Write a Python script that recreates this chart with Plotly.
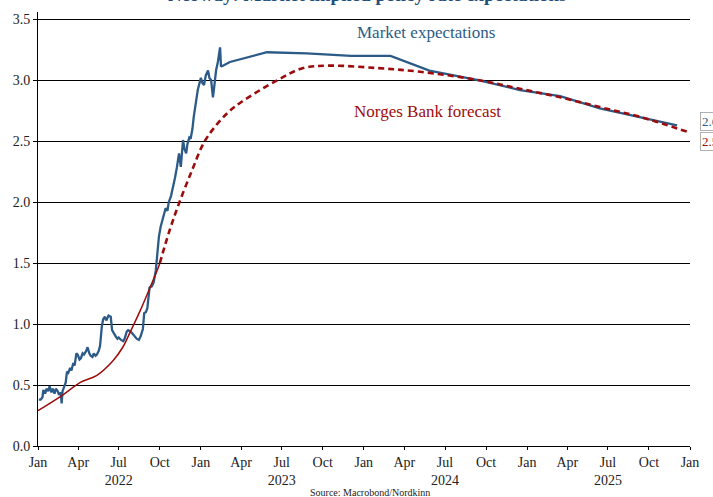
import plotly.graph_objects as go

# ---------------- data ----------------
market_hist_dates = [
    "2022-01-03", "2022-01-07", "2022-01-11", "2022-01-13", "2022-01-17", "2022-01-20",
    "2022-01-24", "2022-01-27", "2022-01-31", "2022-02-03", "2022-02-07", "2022-02-10",
    "2022-02-14", "2022-02-17", "2022-02-21", "2022-02-23", "2022-02-25", "2022-03-01",
    "2022-03-04", "2022-03-07", "2022-03-10", "2022-03-14", "2022-03-17", "2022-03-21",
    "2022-03-24", "2022-03-28", "2022-03-31", "2022-04-04", "2022-04-07", "2022-04-11",
    "2022-04-14", "2022-04-19", "2022-04-22", "2022-04-26", "2022-04-29", "2022-05-03",
    "2022-05-06", "2022-05-10", "2022-05-13", "2022-05-17", "2022-05-20", "2022-05-24",
    "2022-05-27", "2022-05-31", "2022-06-03", "2022-06-08", "2022-06-13", "2022-06-16",
    "2022-06-20", "2022-06-24", "2022-06-28", "2022-07-01", "2022-07-06", "2022-07-11",
    "2022-07-14", "2022-07-19", "2022-07-22", "2022-07-27", "2022-08-01", "2022-08-05",
    "2022-08-10", "2022-08-15", "2022-08-19", "2022-08-24", "2022-08-27", "2022-08-31",
    "2022-09-03", "2022-09-08", "2022-09-13", "2022-09-17", "2022-09-22", "2022-09-26",
    "2022-09-29", "2022-10-03", "2022-10-06", "2022-10-10", "2022-10-14", "2022-10-18",
    "2022-10-21", "2022-10-26", "2022-10-31", "2022-11-04", "2022-11-08", "2022-11-13",
    "2022-11-17", "2022-11-22", "2022-11-25", "2022-11-29", "2022-12-02", "2022-12-06",
    "2022-12-09", "2022-12-13", "2022-12-16", "2022-12-20", "2022-12-25", "2023-01-01",
    "2023-01-04", "2023-01-08", "2023-01-12", "2023-01-17", "2023-01-20", "2023-01-24",
    "2023-01-28", "2023-01-31", "2023-02-04", "2023-02-08", "2023-02-11", "2023-02-13",
    "2023-02-15",
]
market_hist_values = [
    0.38, 0.38, 0.40, 0.46, 0.43, 0.47,
    0.45, 0.49, 0.44, 0.47, 0.43, 0.47,
    0.45, 0.42, 0.44, 0.35, 0.45, 0.49,
    0.52, 0.61, 0.60, 0.64, 0.62, 0.68,
    0.66, 0.76, 0.75, 0.71, 0.72, 0.76,
    0.75, 0.78, 0.81, 0.76, 0.74, 0.73,
    0.76, 0.74, 0.75, 0.78, 0.82, 0.98,
    1.04, 1.06, 1.03, 1.07, 1.06, 0.95,
    0.92, 0.90, 0.88, 0.89, 0.87, 0.86,
    0.88, 0.94, 0.95, 0.94, 0.92, 0.90,
    0.88, 0.87, 0.90, 0.96, 1.09, 1.10,
    1.13, 1.30, 1.31, 1.34, 1.44, 1.60,
    1.72, 1.80, 1.84, 1.90, 1.95, 1.93,
    2.00, 2.05, 2.12, 2.20, 2.28, 2.40,
    2.29, 2.51, 2.44, 2.40, 2.48, 2.53,
    2.52, 2.60, 2.70, 2.80, 2.92, 3.02,
    2.98, 2.96, 3.04, 3.08, 3.02, 3.00,
    2.86, 2.95, 3.08, 3.15, 3.22, 3.27,
    3.11,
]

market_fwd_dates = [
    "2023-02-15", "2023-03-07", "2023-05-29", "2023-08-26", "2023-12-04",
    "2024-03-01", "2024-05-27", "2024-09-16", "2024-12-16", "2025-03-16",
    "2025-06-13", "2025-09-11", "2025-12-03",
]
market_fwd_values = [
    3.11, 3.15, 3.23, 3.22, 3.20,
    3.20, 3.08, 3.00, 2.92, 2.87,
    2.77, 2.70, 2.63,
]

nb_hist_dates = [
    "2022-01-01", "2022-02-26", "2022-04-05", "2022-05-13", "2022-06-18",
    "2022-07-10", "2022-07-26", "2022-08-18", "2022-09-09", "2022-09-25",
    "2022-10-01",
]
nb_hist_values = [
    0.29, 0.42, 0.52, 0.58, 0.70,
    0.81, 0.93, 1.11, 1.30, 1.44,
    1.50,
]

nb_fcst_dates = [
    "2022-10-01", "2022-10-23", "2022-11-13", "2022-12-12", "2023-01-08",
    "2023-02-04", "2023-03-04", "2023-04-01", "2023-06-21", "2023-08-18",
    "2023-10-17", "2024-01-31", "2024-05-06", "2024-09-16", "2024-12-16",
    "2025-03-16", "2025-06-13", "2025-09-11", "2026-01-01",
]
nb_fcst_values = [
    1.50, 1.77, 1.99, 2.26, 2.49,
    2.63, 2.74, 2.82, 3.00, 3.10,
    3.12, 3.10, 3.07, 3.00, 2.93,
    2.86, 2.78, 2.70, 2.57,
]

tick_dates = [
    "2022-01-01", "2022-04-01", "2022-07-01", "2022-10-01",
    "2023-01-01", "2023-04-01", "2023-07-01", "2023-10-01",
    "2024-01-01", "2024-04-01", "2024-07-01", "2024-10-01",
    "2025-01-01", "2025-04-01", "2025-07-01", "2025-10-01",
    "2026-01-01",
]
tick_labels = [
    "Jan", "Apr", "Jul<br>2022", "Oct",
    "Jan", "Apr", "Jul<br>2023", "Oct",
    "Jan", "Apr", "Jul<br>2024", "Oct",
    "Jan", "Apr", "Jul<br>2025", "Oct",
    "Jan",
]
y_ticks = [0.0, 0.5, 1.0, 1.5, 2.0, 2.5, 3.0, 3.5]

market_end_label = "2.62"
nb_end_label = "2.57"

# ---------------- style ----------------
BLUE = "#2c5b88"
RED = "#9c0c0c"
FONT = "Liberation Serif"

fig = go.Figure()

fig.add_trace(go.Scatter(x=market_hist_dates, y=market_hist_values, mode="lines",
                         line=dict(color=BLUE, width=2.3), showlegend=False,
                         hoverinfo="skip"))
fig.add_trace(go.Scatter(x=market_fwd_dates, y=market_fwd_values, mode="lines",
                         line=dict(color=BLUE, width=2.3), showlegend=False,
                         hoverinfo="skip"))
fig.add_trace(go.Scatter(x=nb_hist_dates, y=nb_hist_values, mode="lines",
                         line=dict(color=RED, width=1.5, shape="spline"),
                         showlegend=False, hoverinfo="skip"))
fig.add_trace(go.Scatter(x=nb_fcst_dates, y=nb_fcst_values, mode="lines",
                         line=dict(color=RED, width=2.6, dash="6px,4px", shape="spline"),
                         showlegend=False, hoverinfo="skip"))

fig.update_layout(
    width=713, height=497,
    margin=dict(l=38, r=23, t=12, b=51, autoexpand=False),
    paper_bgcolor="white", plot_bgcolor="white",
    font=dict(family=FONT, color="#222222", size=14),
    title=dict(text="<b>Norway: Market implied policy rate expectations</b>",
               x=0.505, xanchor="center", xref="paper",
               yref="container", y=1 - 1 / 497, yanchor="bottom",
               font=dict(family=FONT, size=19, color="#1f4e7a")),
    xaxis=dict(
        type="date", range=["2022-01-01", "2026-01-01"],
        tickvals=tick_dates, ticktext=tick_labels,
        showgrid=False, showline=True, linecolor="black", linewidth=1,
        ticks="outside", ticklen=3, tickcolor="black",
        tickfont=dict(family=FONT, size=14, color="#222222"),
        zeroline=False, automargin=False,
    ),
    yaxis=dict(
        range=[0, 3.56], tickvals=y_ticks, tickformat=".1f",
        showgrid=True, gridcolor="black", gridwidth=1,
        showline=True, linecolor="black", linewidth=1,
        ticks="outside", ticklen=4, tickcolor="black",
        tickfont=dict(family=FONT, size=14, color="#222222"),
        zeroline=False, automargin=False,
    ),
)

fig.add_annotation(text="Market expectations", xref="paper", yref="y",
                   x=0.595, y=3.39, showarrow=False,
                   font=dict(family=FONT, size=17, color=BLUE))
fig.add_annotation(text="Norges Bank forecast", xref="paper", yref="y",
                   x=0.597, y=2.74, showarrow=False,
                   font=dict(family=FONT, size=17, color=RED))
fig.add_annotation(text="Source: Macrobond/Nordkinn", xref="paper", yref="paper",
                   x=0.509, y=-0.106, showarrow=False, yanchor="middle",
                   font=dict(family=FONT, size=10, color="#222222"))

fig.add_annotation(text=market_end_label, xref="paper", yref="y",
                   x=1, xshift=10, y=2.66, xanchor="left", showarrow=False,
                   bgcolor="white", bordercolor="#b0b0b0", borderwidth=1, borderpad=1,
                   font=dict(family=FONT, size=13, color=BLUE))
fig.add_annotation(text=nb_end_label, xref="paper", yref="y",
                   x=1, xshift=10, y=2.50, xanchor="left", showarrow=False,
                   bgcolor="white", bordercolor="#b0b0b0", borderwidth=1, borderpad=1,
                   font=dict(family=FONT, size=13, color=RED))

fig.write_html("out.html")
